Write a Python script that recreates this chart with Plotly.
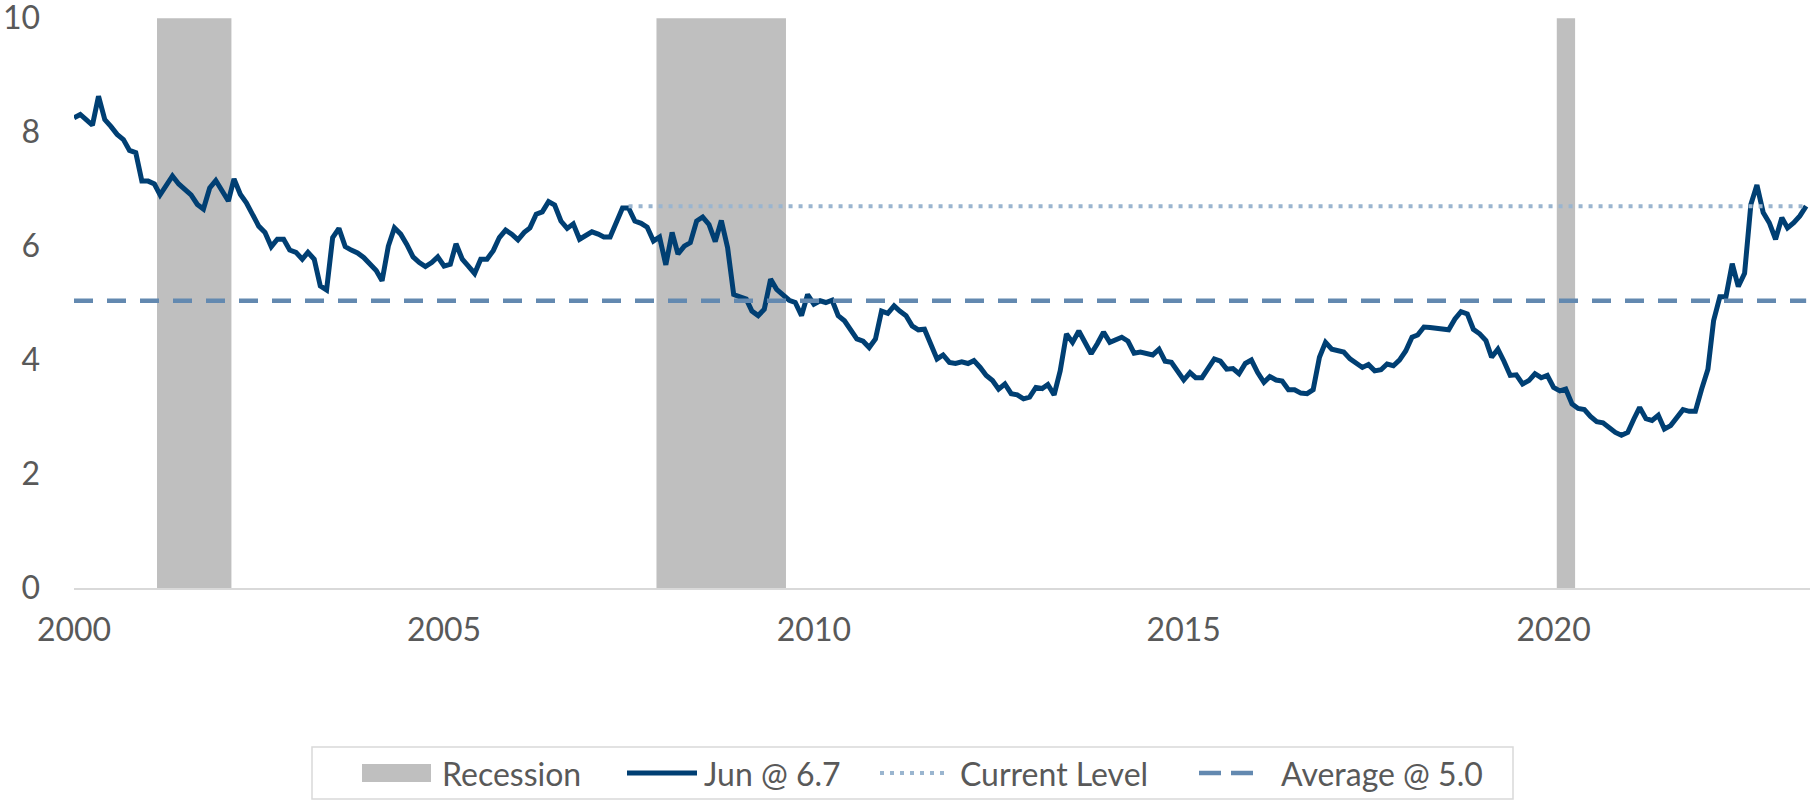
import plotly.graph_objects as go
import pandas as pd

# ---------------- data ----------------
start_month = "2000-01-01"
values = [
    8.25, 8.31, 8.22, 8.12, 8.63, 8.22, 8.10, 7.96, 7.87, 7.68, 7.64, 7.14,   # 2000
    7.14, 7.09, 6.90, 7.08, 7.23, 7.09, 6.99, 6.90, 6.73, 6.65, 7.02, 7.15,   # 2001
    6.97, 6.79, 7.18, 6.91, 6.76, 6.56, 6.35, 6.24, 5.99, 6.12, 6.12, 5.93,   # 2002
    5.89, 5.77, 5.89, 5.77, 5.30, 5.23, 6.15, 6.31, 5.99, 5.93, 5.88, 5.80,   # 2003
    5.67, 5.57, 5.39, 6.00, 6.32, 6.21, 6.03, 5.81, 5.71, 5.64, 5.71, 5.81,   # 2004
    5.65, 5.68, 6.04, 5.77, 5.65, 5.52, 5.77, 5.77, 5.92, 6.15, 6.28, 6.21,   # 2005
    6.11, 6.24, 6.32, 6.56, 6.60, 6.78, 6.72, 6.44, 6.31, 6.39, 6.12, 6.18,   # 2006
    6.25, 6.21, 6.16, 6.16, 6.41, 6.67, 6.67, 6.44, 6.40, 6.33, 6.09, 6.16,   # 2007
    5.67, 6.24, 5.86, 6.00, 6.06, 6.44, 6.51, 6.38, 6.08, 6.45, 5.97, 5.15,   # 2008
    5.11, 5.07, 4.86, 4.78, 4.89, 5.42, 5.24, 5.15, 5.05, 5.01, 4.78, 5.15,   # 2009
    4.98, 5.04, 5.01, 5.05, 4.78, 4.69, 4.54, 4.37, 4.33, 4.22, 4.37, 4.86,   # 2010
    4.82, 4.95, 4.86, 4.78, 4.60, 4.53, 4.54, 4.30, 4.02, 4.09, 3.96, 3.94,   # 2011
    3.97, 3.94, 3.99, 3.87, 3.73, 3.64, 3.49, 3.58, 3.41, 3.39, 3.32, 3.35,   # 2012
    3.52, 3.50, 3.57, 3.39, 3.81, 4.46, 4.31, 4.51, 4.31, 4.11, 4.29, 4.49,   # 2013
    4.31, 4.37, 4.40, 4.33, 4.12, 4.14, 4.11, 4.09, 4.19, 3.98, 3.96, 3.81,   # 2014
    3.65, 3.78, 3.69, 3.69, 3.87, 4.02, 3.98, 3.84, 3.85, 3.76, 3.94, 4.00,   # 2015
    3.78, 3.61, 3.71, 3.65, 3.63, 3.48, 3.48, 3.42, 3.41, 3.48, 4.05, 4.31,   # 2016
    4.19, 4.16, 4.14, 4.02, 3.94, 3.87, 3.92, 3.81, 3.83, 3.93, 3.90, 4.00,   # 2017
    4.16, 4.40, 4.44, 4.58, 4.57, 4.56, 4.55, 4.53, 4.72, 4.85, 4.81, 4.54,   # 2018
    4.46, 4.34, 4.05, 4.19, 3.98, 3.73, 3.74, 3.58, 3.64, 3.76, 3.69, 3.73,   # 2019
    3.52, 3.46, 3.49, 3.23, 3.15, 3.13, 3.01, 2.92, 2.90, 2.81, 2.73, 2.68,   # 2020
    2.73, 2.97, 3.17, 2.97, 2.94, 3.03, 2.79, 2.85, 2.99, 3.13, 3.10, 3.10,   # 2021
    3.49, 3.84, 4.69, 5.11, 5.11, 5.69, 5.29, 5.52, 6.73, 7.07, 6.59, 6.41,   # 2022
    6.12, 6.50, 6.32, 6.41, 6.53, 6.70,                                       # 2023
]
months = pd.date_range(start_month, periods=len(values), freq="MS")

# recession shading: first and last flagged month of each period
recession_starts = ["2001-03-01", "2007-12-01", "2020-02-01"]
recession_ends = ["2002-02-01", "2009-08-01", "2020-04-01"]

average_level = 5.04
current_level = values[-1]
current_start = "2007-07-01"

tick_dates = ["2000-01-01", "2005-01-01", "2010-01-01", "2015-01-01", "2020-01-01"]
tick_labels = ["2000", "2005", "2010", "2015", "2020"]
y_ticks = [0, 2, 4, 6, 8, 10]

legend_labels = ["Recession", "Jun @ 6.7", "Current Level", "Average @ 5.0"]

# ---------------- styles ----------------
FONT = "Lato"
TXT = "#595959"
NAVY = "#003f73"
DOT_C = "#9ab5cf"
DASH_C = "#6389b0"
GRAY = "#bfbfbf"
Y_MAX = 10
FS = 32

W, H = 1814, 801
L, R, T, B = 74, 4, 17, 213
PW, PH = W - L - R, H - T - B


def px(xp):
    return (xp - L) / PW


def py(yp):
    return (H - B - yp) / PH


# one bar per recession period, spanning half a month before the first
# flagged month to half a month after the last one
half = pd.Timedelta(days=15.2)
rec_x, rec_w = [], []
for s, e in zip(recession_starts, recession_ends):
    a = pd.Timestamp(s) - half
    b = pd.Timestamp(e) + half
    rec_x.append(a + (b - a) / 2)
    rec_w.append((b - a).total_seconds() * 1000)

fig = go.Figure()

fig.add_trace(go.Bar(
    x=rec_x, y=[Y_MAX] * len(rec_x), width=rec_w,
    marker=dict(color=GRAY, line=dict(width=0)),
    name=legend_labels[0], showlegend=False, hoverinfo="skip"))

fig.add_trace(go.Scatter(
    x=months, y=values, mode="lines", name=legend_labels[1],
    line=dict(color=NAVY, width=5), showlegend=False))

fig.add_trace(go.Scatter(
    x=[current_start, months[-1]], y=[current_level, current_level], mode="lines",
    name=legend_labels[2], line=dict(color=DOT_C, width=4, dash="4px,6px"), showlegend=False))

fig.add_trace(go.Scatter(
    x=[months[0], months[-1]], y=[average_level, average_level], mode="lines",
    name=legend_labels[3], line=dict(color=DASH_C, width=4.5, dash="19px,14px"), showlegend=False))

# ---------------- manual legend ----------------
shapes = []
annotations = []
ly = 773
shapes.append(dict(type="rect", xref="paper", yref="paper",
                   x0=px(312), x1=px(1513), y0=py(799), y1=py(747),
                   line=dict(color="#d9d9d9", width=1.5), fillcolor="rgba(0,0,0,0)"))
shapes.append(dict(type="rect", xref="paper", yref="paper",
                   x0=px(362), x1=px(431), y0=py(782), y1=py(764),
                   line=dict(width=0), fillcolor=GRAY))
shapes.append(dict(type="line", xref="paper", yref="paper",
                   x0=px(627), x1=px(697), y0=py(ly), y1=py(ly),
                   line=dict(color=NAVY, width=5)))
shapes.append(dict(type="line", xref="paper", yref="paper",
                   x0=px(880), x1=px(948), y0=py(ly), y1=py(ly),
                   line=dict(color=DOT_C, width=4, dash="4px,6px")))
shapes.append(dict(type="line", xref="paper", yref="paper",
                   x0=px(1199), x1=px(1253), y0=py(ly), y1=py(ly),
                   line=dict(color=DASH_C, width=4.5, dash="22px,10px")))
for label, xp in zip(legend_labels, [440, 702, 958, 1279]):
    annotations.append(dict(text=label, xref="paper", yref="paper", x=px(xp), y=py(ly),
                            xanchor="left", yanchor="middle", showarrow=False,
                            font=dict(family=FONT, size=FS, color=TXT)))

fig.update_layout(
    template="none",
    width=W, height=H,
    margin=dict(l=L, r=R, t=T, b=B, autoexpand=False),
    paper_bgcolor="white", plot_bgcolor="white",
    showlegend=False,
    shapes=shapes, annotations=annotations,
    xaxis=dict(type="date", range=["2000-01-01", "2023-06-20"],
               tickvals=tick_dates, ticktext=tick_labels, automargin=False,
               showgrid=False, zeroline=False, showline=True,
               linecolor="#d9d9d9", linewidth=2, ticks="",
               ticklabelstandoff=13, ticklabeloverflow="allow",
               tickfont=dict(family=FONT, size=FS, color=TXT)),
    yaxis=dict(range=[0, Y_MAX * 1.002], tickvals=y_ticks, automargin=False,
               showgrid=False, zeroline=False,
               showline=False, ticks="", ticklabelstandoff=33,
               ticklabeloverflow="allow",
               tickfont=dict(family=FONT, size=FS, color=TXT)),
)

fig.write_html(
    "out.html",
    config={"displayModeBar": False},
    post_script="document.body.style.margin='0';document.body.style.overflow='hidden';",
)
